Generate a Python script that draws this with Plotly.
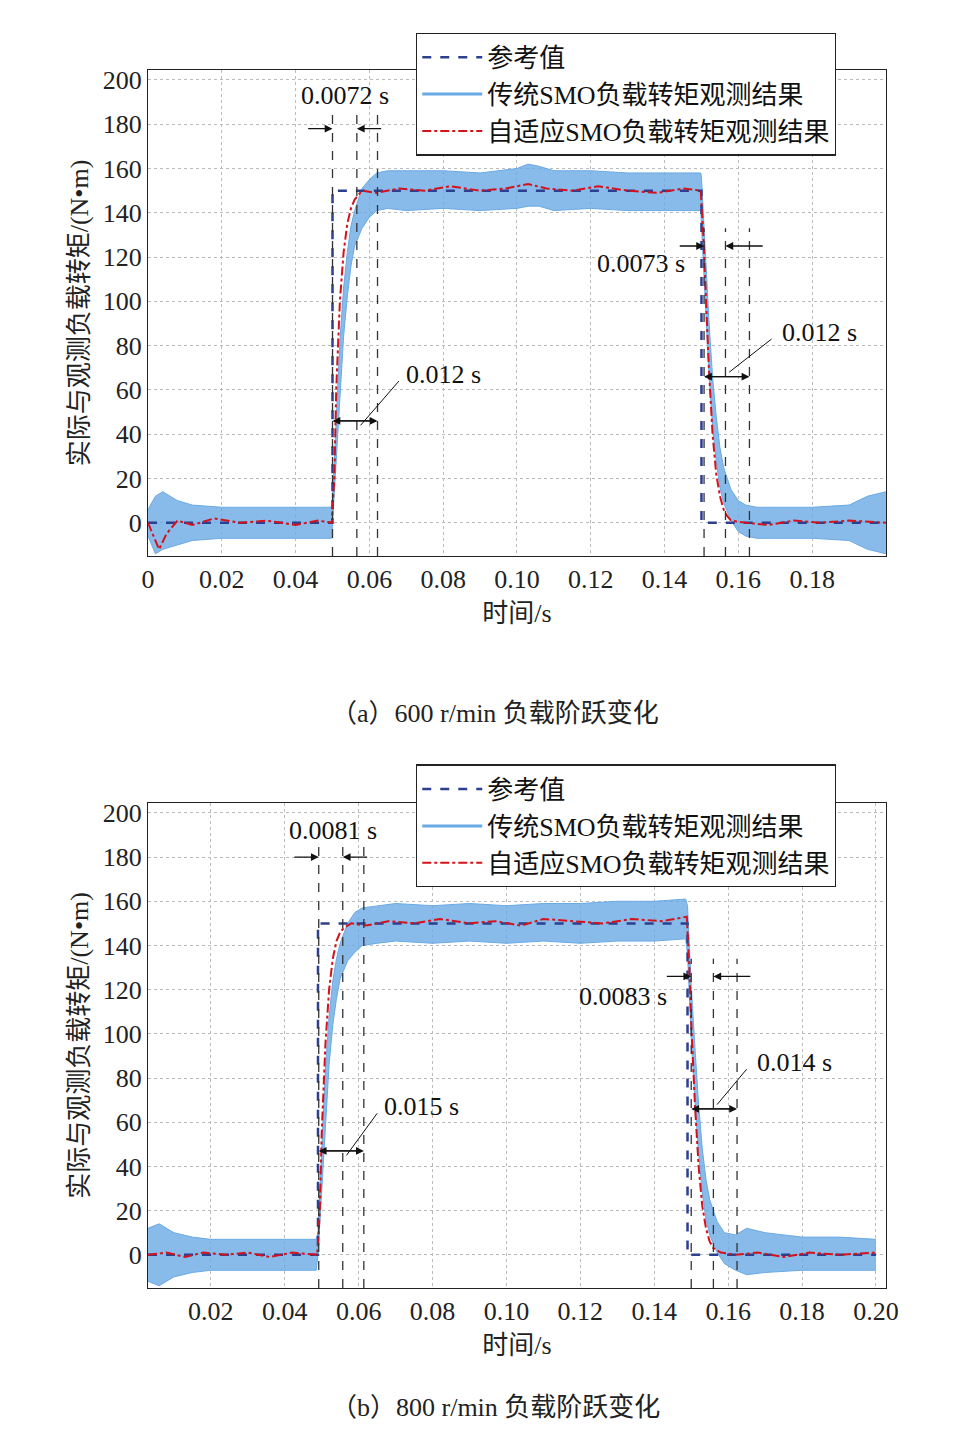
import plotly.graph_objects as go

# ---------------- data (a) 600 r/min ----------------
ref_t_a = [0, 0.050, 0.050, 0.150, 0.150, 0.2]
ref_v_a = [0, 0, 150, 150, 0, 0]
smo_t_a = [0, 0.002, 0.004, 0.008, 0.012, 0.02, 0.03, 0.04, 0.0498, 0.050, 0.051, 0.052, 0.053, 0.054, 0.055, 0.056,
           0.058, 0.060, 0.062, 0.065, 0.07, 0.08, 0.09, 0.10, 0.103, 0.106, 0.11, 0.12, 0.13, 0.14, 0.1498, 0.150,
           0.151, 0.152, 0.153, 0.154, 0.155, 0.156, 0.158, 0.160, 0.162, 0.165, 0.17, 0.18, 0.19, 0.195, 0.2]
smo_hi_a = [6, 12, 14, 10, 8, 7, 7, 7, 7, 10, 50, 82, 106, 122, 134, 141, 151, 155, 158, 159, 159, 159, 158, 160, 162,
            161, 159, 159, 158, 158, 158, 156, 122, 92, 66, 48, 34, 25, 15, 10, 8, 7, 7, 7, 8, 12, 14]
smo_lo_a = [-6, -14, -12, -10, -8, -7, -7, -7, -7, 0, 30, 58, 84, 102, 116, 125, 133, 138, 141, 142, 141, 142, 141, 142,
            143, 143, 141, 142, 141, 141, 141, 134, 98, 68, 44, 28, 16, 9, 1, -4, -6, -7, -7, -7, -8, -12, -14]
ada_t_a = [0, 0.002, 0.003, 0.005, 0.008, 0.012, 0.018, 0.025, 0.032, 0.04, 0.046, 0.0498, 0.0505, 0.051, 0.052,
           0.053, 0.054, 0.055, 0.056, 0.057, 0.058, 0.062, 0.068, 0.075, 0.082, 0.09, 0.097, 0.103, 0.108, 0.115,
           0.122, 0.13, 0.138, 0.145, 0.1498, 0.1505, 0.151, 0.152, 0.153, 0.154, 0.155, 0.156, 0.157, 0.158, 0.162,
           0.168, 0.175, 0.182, 0.19, 0.2]
ada_v_a = [0, -8, -12, -5, 1, -1, 2, 0, 1, -1, 1, 0, 20, 60, 100, 122, 135, 142, 146, 148, 150, 149, 151, 150, 152, 150,
           151, 153, 151, 150, 152, 150, 149, 151, 150, 130, 110, 70, 40, 22, 12, 6, 3, 1, 0, -1, 1, 0, 1, 0]

# ---------------- data (b) 800 r/min ----------------
ref_t_b = [0.003, 0.049, 0.049, 0.149, 0.149, 0.2]
ref_v_b = [0, 0, 150, 150, 0, 0]
smo_t_b = [0.003, 0.006, 0.01, 0.015, 0.02, 0.03, 0.04, 0.0485, 0.049, 0.050, 0.051, 0.052, 0.053, 0.054, 0.055,
           0.057, 0.059, 0.061, 0.065, 0.07, 0.08, 0.09, 0.10, 0.11, 0.12, 0.13, 0.14, 0.1485, 0.149, 0.150, 0.151,
           0.152, 0.153, 0.154, 0.155, 0.157, 0.159, 0.162, 0.165, 0.17, 0.18, 0.19, 0.2]
smo_hi_b = [12, 14, 10, 8, 7, 7, 7, 7, 10, 50, 84, 108, 124, 134, 141, 150, 155, 157, 158, 159, 158, 159, 158, 159, 159,
            160, 160, 161, 158, 122, 94, 68, 48, 34, 25, 15, 10, 9, 12, 10, 8, 8, 7]
smo_lo_b = [-12, -14, -10, -8, -7, -7, -7, -7, 0, 30, 60, 86, 104, 116, 125, 133, 137, 140, 141, 142, 141, 142, 141,
            142, 141, 142, 142, 143, 136, 98, 70, 46, 28, 16, 9, 1, -4, -7, -9, -8, -7, -7, -7]
ada_t_b = [0.003, 0.008, 0.013, 0.018, 0.024, 0.03, 0.036, 0.042, 0.0488, 0.0495, 0.050, 0.051, 0.052, 0.053, 0.054,
           0.055, 0.056, 0.058, 0.062, 0.068, 0.075, 0.082, 0.09, 0.097, 0.104, 0.11, 0.118, 0.126, 0.134, 0.142,
           0.1488, 0.1495, 0.150, 0.151, 0.152, 0.153, 0.154, 0.155, 0.156, 0.158, 0.162, 0.168, 0.175, 0.182, 0.19,
           0.2]
ada_v_b = [0, 1, -1, 1, 0, 1, -1, 1, 0, 20, 55, 95, 120, 134, 142, 146, 148, 150, 149, 151, 150, 152, 150, 151, 149,
           152, 151, 150, 152, 151, 153, 130, 105, 68, 40, 22, 12, 6, 3, 1, 0, 1, -1, 1, 0, 1]

y_ticks = [0, 20, 40, 60, 80, 100, 120, 140, 160, 180, 200]
x_ticks_a = [0, 0.02, 0.04, 0.06, 0.08, 0.10, 0.12, 0.14, 0.16, 0.18]
x_labels_a = ["0", "0.02", "0.04", "0.06", "0.08", "0.10", "0.12", "0.14", "0.16", "0.18"]
x_ticks_b = [0.02, 0.04, 0.06, 0.08, 0.10, 0.12, 0.14, 0.16, 0.18, 0.20]
x_labels_b = ["0.02", "0.04", "0.06", "0.08", "0.10", "0.12", "0.14", "0.16", "0.18", "0.20"]

names = ["参考值", "传统SMO负载转矩观测结果", "自适应SMO负载转矩观测结果"]
captions = ["（a）600 r/min 负载阶跃变化", "（b）800 r/min 负载阶跃变化"]

vlines_a = [0.050, 0.0566, 0.0622, 0.1507, 0.1565, 0.1630]
vlines_b = [0.0492, 0.0557, 0.0614, 0.150, 0.156, 0.1624]
labels_a = [("0.0072 s", 0.0535, 193), ("0.012 s", 0.080, 67), ("0.0073 s", 0.1335, 117), ("0.012 s", 0.182, 86)]
labels_b = [("0.0081 s", 0.0530, 192), ("0.015 s", 0.077, 67), ("0.0083 s", 0.1315, 117), ("0.014 s", 0.178, 87)]

SERIF = "Liberation Serif, Noto Sans CJK SC"
BLUE = "#6aaae4"
RED = "#d3121c"
NAVY = "#2d3f8f"

fig = go.Figure()

panels = [
    dict(ax="", ref=(ref_t_a, ref_v_a), smo=(smo_t_a, smo_hi_a, smo_lo_a), ada=(ada_t_a, ada_v_a),
         xr=[0, 0.2], dom=[0.6226, 0.9573], xt=(x_ticks_a, x_labels_a), vl=vlines_a, lb=labels_a,
         rows=(178, 46, 125, 66), leg=(0.4255, 0.983)),
    dict(ax="2", ref=(ref_t_b, ref_v_b), smo=(smo_t_b, smo_hi_b, smo_lo_b), ada=(ada_t_b, ada_v_b),
         xr=[0.003, 0.2027], dom=[0.1185, 0.4525], xt=(x_ticks_b, x_labels_b), vl=vlines_b, lb=labels_b,
         rows=(180, 47, 126, 66), leg=(0.4255, 0.479)),
]

for i, p in enumerate(panels):
    xa, ya = "x" + p["ax"], "y" + p["ax"]
    legname = "legend" if i == 0 else "legend2"
    st, hi, lo = p["smo"]
    fig.add_trace(go.Scatter(x=st, y=lo, mode="lines", line=dict(color=BLUE, width=1), xaxis=xa, yaxis=ya,
                             showlegend=False, hoverinfo="skip"))
    fig.add_trace(go.Scatter(x=st, y=hi, mode="lines", line=dict(color=BLUE, width=1), fill="tonexty",
                             fillcolor="rgba(106,170,228,0.8)", xaxis=xa, yaxis=ya, showlegend=False))
    fig.add_trace(go.Scatter(x=p["ref"][0], y=p["ref"][1], mode="lines", name=names[0],
                             line=dict(color=NAVY, width=2.5, dash="dash"), xaxis=xa, yaxis=ya, legend=legname))
    fig.add_trace(go.Scatter(x=[None], y=[None], mode="lines", name=names[1],
                             line=dict(color=BLUE, width=3), xaxis=xa, yaxis=ya, legend=legname))
    fig.add_trace(go.Scatter(x=p["ada"][0], y=p["ada"][1], mode="lines", name=names[2],
                             line=dict(color=RED, width=2, dash="dashdot"), xaxis=xa, yaxis=ya, legend=legname))

    for k, xv in enumerate(p["vl"]):
        fig.add_shape(type="line", x0=xv, x1=xv, y0=-15, y1=p["rows"][0 if k < 3 else 2] + 8,
                      xref=xa, yref=ya, line=dict(color="#333", width=1.3, dash="dash"))
    ytop, ybot, ytop2, ybot2 = p["rows"]
    v = p["vl"]
    arrows = [
        (v[0] - 0.007, ytop, v[0], ytop), (v[1] + 0.007, ytop, v[1], ytop),
        (v[0], ybot, v[2], ybot), (v[2], ybot, v[0], ybot),
        (v[3] - 0.007, ytop2, v[3], ytop2), (v[5] + 0.004, ytop2, v[4], ytop2),
        (v[3], ybot2, v[5], ybot2), (v[5], ybot2, v[3], ybot2),
    ]
    for (x0, y0, x1, y1) in arrows:
        fig.add_annotation(x=x1, y=y1, ax=x0, ay=y0, xref=xa, yref=ya, axref=xa, ayref=ya, text="",
                           showarrow=True, arrowhead=2, arrowsize=1.2, arrowwidth=1.3, arrowcolor="#111")
    for t, xv, yv in p["lb"]:
        fig.add_annotation(x=xv, y=yv, xref=xa, yref=ya, text=t, showarrow=False,
                           font=dict(family=SERIF, size=26, color="#111"), bgcolor="rgba(255,255,255,0)")
    fig.add_shape(type="line", x0=v[1] + 0.001, y0=ybot - 2, x1=p["lb"][1][1] - 0.012, y1=p["lb"][1][2] - 3,
                  xref=xa, yref=ya, line=dict(color="#111", width=1))
    fig.add_shape(type="line", x0=v[4] + 0.001, y0=ybot2 + 2, x1=p["lb"][3][1] - 0.013, y1=p["lb"][3][2] - 3,
                  xref=xa, yref=ya, line=dict(color="#111", width=1))

    axkey = "xaxis" + p["ax"]
    aykey = "yaxis" + p["ax"]
    common = dict(showline=True, mirror=True, linecolor="#222", linewidth=1.2, showgrid=True,
                  gridcolor="#bbbbbb", griddash="dot", gridwidth=1, zeroline=False, ticks="",
                  automargin=False, tickfont=dict(family=SERIF, size=26, color="#222"))
    fig.update_layout({
        axkey: dict(common, range=p["xr"], domain=[0.146, 0.9155], anchor=ya, tickvals=p["xt"][0],
                    ticktext=p["xt"][1],
                    title=dict(text="时间/s", font=dict(family=SERIF, size=26, color="#222"), standoff=10)),
        aykey: dict(common, range=[-15, 204.5], domain=p["dom"], anchor=xa, tickvals=y_ticks,
                    title=dict(text="实际与观测负载转矩/(N•m)", font=dict(family=SERIF, size=26, color="#222"),
                               standoff=6)),
        legname: dict(x=p["leg"][0], y=p["leg"][1], xanchor="left", yanchor="top", bgcolor="white",
                      bordercolor="#222", borderwidth=1.2, font=dict(family=SERIF, size=26, color="#111"),
                      tracegroupgap=0, itemwidth=60, traceorder="normal"),
    })
    fig.add_annotation(x=0.508, y=[0.514, 0.025][i], xref="paper", yref="paper", text=captions[i],
                       showarrow=False, font=dict(family=SERIF, size=26, color="#222"))

fig.update_layout(width=959, height=1452, margin=dict(l=0, r=0, t=0, b=0), plot_bgcolor="white",
                  paper_bgcolor="white")
fig.write_html("out.html")
